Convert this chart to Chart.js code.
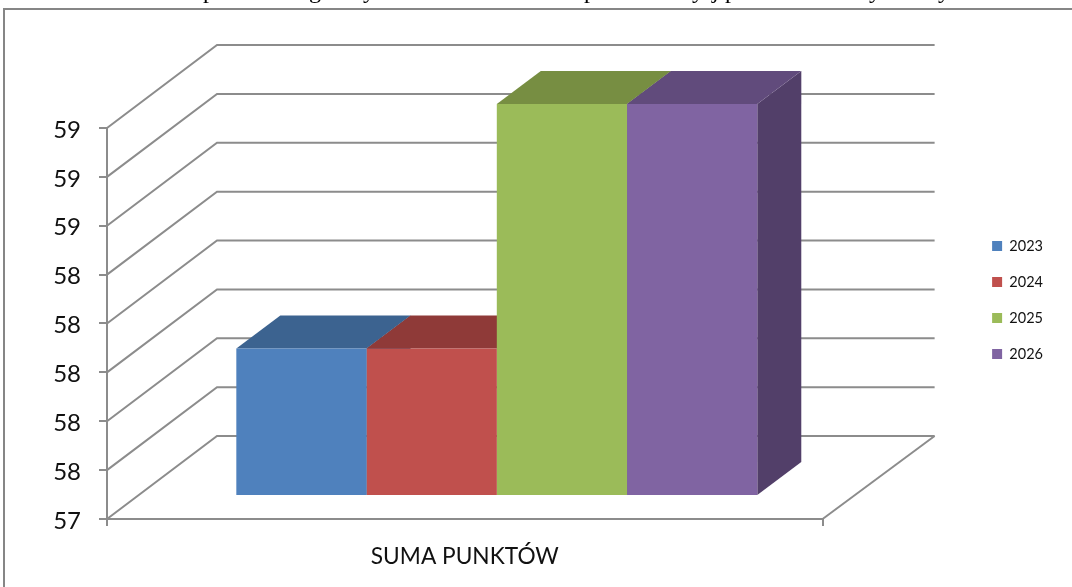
<!DOCTYPE html>
<html><head><meta charset="utf-8">
<style>
html,body{margin:0;padding:0;background:#fff;width:1072px;height:587px;overflow:hidden}
#frame{position:absolute;left:3px;top:8px;right:-5px;bottom:-5px;border:2px solid #868686}
#chart{position:absolute;left:0;top:0}
.frag{position:absolute;font:24px/24px 'Liberation Serif',serif;color:#000;top:-22px}
</style>
<script src="https://cdn.jsdelivr.net/npm/chart.js@4/dist/chart.umd.min.js"></script>
</head><body>
<div id="frame"></div>
<canvas id="chart" width="1072" height="587"></canvas>
<script>
const categories = ["SUMA PUNKTÓW"];
const seriesNames = ["2023", "2024", "2025", "2026"];
const values2023 = [58.0];
const values2024 = [58.0];
const values2025 = [59.0];
const values2026 = [59.0];
const frontColors = ["#4F81BD", "#C0504D", "#9BBB59", "#8064A2"];
const topColors = ["#3C6390", "#8F3A38", "#778E42", "#614B7C"];
const sideColors = ["#335479", "#78312F", "#647838", "#523F69"];
const clippedTitleGlyphs = ["p", "g", "y", "p", "y", "j", "p", "y", "y"];
const clippedTitleLefts = [203, 309, 363, 584, 692, 712, 725, 869, 938];

clippedTitleGlyphs.forEach((g, i) => {
  const s = document.createElement("span");
  s.className = "frag"; s.textContent = g; s.style.left = clippedTitleLefts[i] + "px";
  document.body.appendChild(s);
});

const wallDx = 110, wallDy = 83, wallRight = 112;
const barShiftX = 32, barShiftY = 24, depthX = 44, depthY = 33;
const gridColor = "#8C8C8C";

const threeD = {
  id: "threeD",
  beforeDatasetsDraw(chart) {
    const c = chart.ctx, y = chart.scales.y, a = chart.chartArea;
    c.save();
    c.strokeStyle = gridColor; c.lineWidth = 2;
    y.ticks.forEach(t => {
      const py = y.getPixelForValue(t.value);
      c.beginPath();
      c.moveTo(a.left, py);
      c.lineTo(a.left + wallDx, py - wallDy);
      c.lineTo(a.right + wallRight, py - wallDy);
      c.stroke();
    });
    c.beginPath();
    c.moveTo(a.right, a.bottom);
    c.lineTo(a.right + wallRight, a.bottom - wallDy);
    c.stroke();
    c.restore();
    c.save();
    c.translate(barShiftX, -barShiftY);
    chart.data.datasets.forEach((ds, i) => {
      chart.getDatasetMeta(i).data.forEach(b => {
        const l = b.x - b.width / 2, r = b.x + b.width / 2, base = a.bottom;
        c.fillStyle = sideColors[i];
        c.beginPath();
        c.moveTo(r, b.y); c.lineTo(r + depthX, b.y - depthY);
        c.lineTo(r + depthX, base - depthY); c.lineTo(r, base);
        c.closePath(); c.fill();
        c.fillStyle = topColors[i];
        c.beginPath();
        c.moveTo(l, b.y); c.lineTo(l + depthX, b.y - depthY);
        c.lineTo(r + depthX, b.y - depthY); c.lineTo(r, b.y);
        c.closePath(); c.fill();
      });
    });
  },
  afterDatasetsDraw(chart) { chart.ctx.restore(); }
};

const hiddenAxis = {
  display: true,
  grid: { display: false },
  border: { display: false },
  ticks: { display: false }
};

new Chart(document.getElementById("chart"), {
  type: "bar",
  data: {
    labels: categories,
    datasets: [values2023, values2024, values2025, values2026].map((v, i) => ({
      label: seriesNames[i], data: v, backgroundColor: frontColors[i],
      borderWidth: 0, xAxisID: "x", yAxisID: "y",
      categoryPercentage: 0.728, barPercentage: 1
    }))
  },
  options: {
    responsive: false, animation: false,
    layout: { padding: { top: 13, left: 0, right: 19, bottom: 0 } },
    plugins: {
      tooltip: { enabled: false },
      legend: {
        position: "right",
        labels: { boxWidth: 10, boxHeight: 10, padding: 21.5, color: "#111",
                  font: { family: "Lato", size: 14.5 } }
      }
    },
    scales: {
      x: {
        position: "bottom",
        grid: { color: gridColor, lineWidth: 2, drawOnChartArea: false, tickLength: 7, offset: true },
        border: { color: gridColor, width: 2 },
        ticks: { color: "#111", font: { family: "Lato", size: 22.7 }, padding: 17 },
        afterFit(s) { s.height = 68; }
      },
      y: {
        position: "left",
        min: 57.4, max: 59,
        grid: { color: gridColor, lineWidth: 2, drawOnChartArea: false, tickLength: 8 },
        border: { color: gridColor, width: 2 },
        ticks: { stepSize: 0.2, color: "#111", padding: 18, labelOffset: 2, font: { family: "Lato", size: 24 },
                 callback: v => Math.round(v).toString() },
        afterFit(s) { s.width = 107; }
      },
      xTop: Object.assign({ type: "category", position: "top", afterFit(s) { s.height = 115; } }, hiddenAxis),
      yRight: Object.assign({ type: "linear", position: "right", afterFit(s) { s.width = 148; } }, hiddenAxis)
    }
  },
  plugins: [threeD]
});
</script>
</body></html>
